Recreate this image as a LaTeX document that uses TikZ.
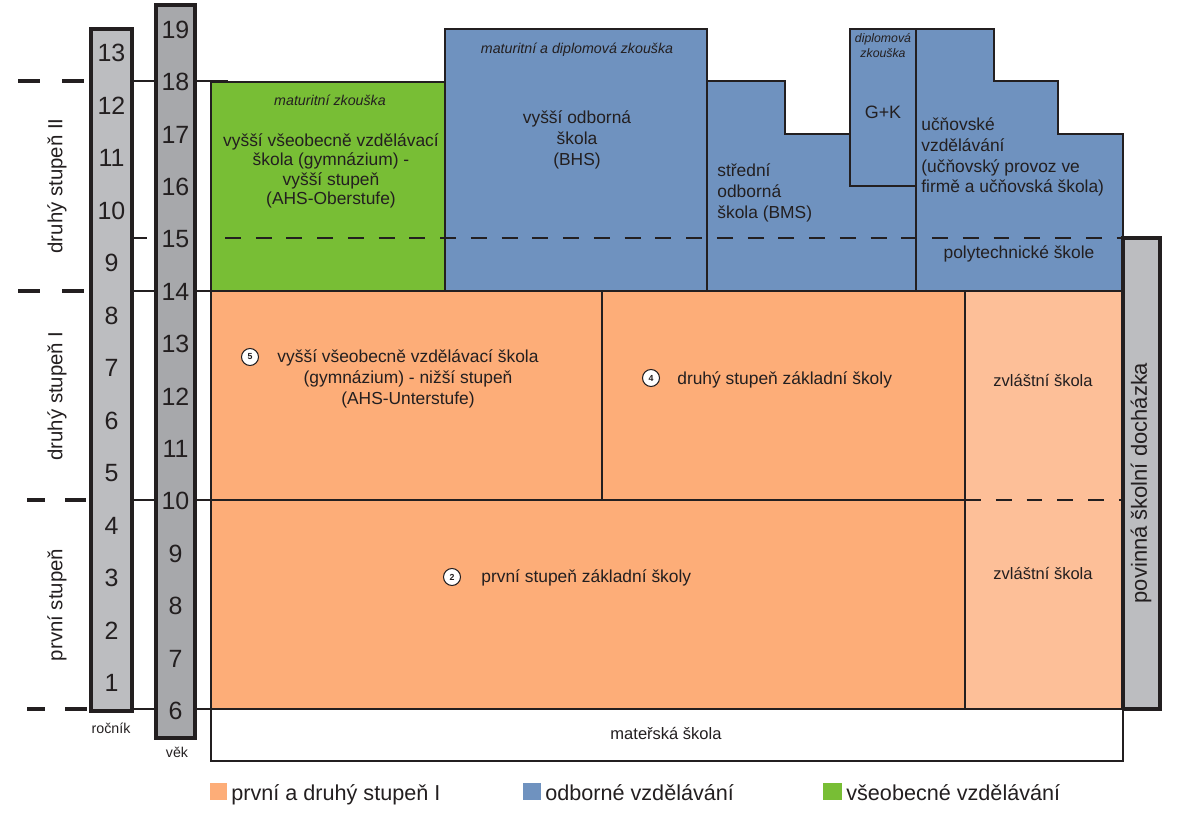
\documentclass[tikz,border=0pt]{standalone}
\usepackage{fontspec}
\setmainfont{Liberation Sans}
\definecolor{ln}{HTML}{231F20}
\definecolor{gA}{HTML}{BCBDC0}
\definecolor{gB}{HTML}{A7A8AB}
\definecolor{grn}{HTML}{78BE35}
\definecolor{blu}{HTML}{6F92BF}
\definecolor{orA}{HTML}{FDAD78}
\definecolor{orB}{HTML}{FDBF98}
\tikzset{
  edge/.style={draw=ln,line width=1.2pt},
  colbox/.style={draw=ln,line width=2.3pt},
  tickmark/.style={draw=ln,line width=2.3pt},
  dline/.style={draw=ln,line width=1.2pt,dash pattern=on 9pt off 8.5pt},
  lbl/.style={inner sep=0pt,text=ln,align=center},
  num/.style={lbl,font=\fontsize{14.2}{16}\selectfont},
  side/.style={lbl,rotate=90,font=\fontsize{11.6}{13}\selectfont},
  txt/.style={lbl,font=\fontsize{9.9}{11.9}\selectfont},
  itx/.style={lbl,font=\fontsize{8.1}{10}\selectfont\itshape},
  small/.style={lbl,font=\fontsize{8.1}{10}\selectfont},
  leg/.style={lbl,anchor=base west,font=\fontsize{12.3}{14}\selectfont},
  circ/.style={circle,draw=ln,line width=0.6pt,fill=white,minimum size=0.34cm,inner sep=0pt,font=\fontsize{5}{6}\selectfont\bfseries,text=ln}
}
\begin{document}
\begin{tikzpicture}[x=0.02cm,y=-0.02cm]
\useasboundingbox (0,0) rectangle (1199,830);

% left dashed stage marks
\draw[tickmark] (18,81) -- (40,81) (62,81) -- (84,81);
\draw[tickmark] (18,291) -- (40,291) (62,291) -- (84,291);
\draw[tickmark] (27,500) -- (45,500) (65,500) -- (86,500);
\draw[tickmark] (27,709) -- (45,709) (65,709) -- (87,709);

% stage labels
\node[side] (s2) at (57,186) {druhý stupeň II};
\node[side] (s1b) at (57,396) {druhý stupeň I};
\node[side] (s1a) at (57,605) {první stupeň};

% connectors between columns
\draw[edge] (132,81) -- (156,81) (195,81) -- (228,81);
\draw[edge] (132,238) -- (147,238);
\draw[edge] (132,291) -- (156,291) (195,291) -- (211,291);
\draw[edge] (132,500) -- (156,500) (195,500) -- (211,500);
\draw[edge] (132,709) -- (156,709) (195,709) -- (211,709);

% columns
\draw[colbox,fill=gA] (91,29) rectangle (132,711);
\draw[colbox,fill=gB] (156,5) rectangle (195,738);
\foreach \g in {1,...,13} \node[num] (r\g) at (111.5,{53+(13-\g)*52.5}) {\g};
\foreach \a in {6,...,19} \node[num] (v\a) at (175.5,{711-(\a-6)*52.4}) {\a};
\node[small] (rocnik) at (111,728) {ročník};
\node[small] (vek) at (177,752) {věk};

% green
\draw[edge,fill=grn] (211,82) rectangle (445,291);
% blue
\draw[edge,fill=blu] (445,29) rectangle (707,291);
\draw[edge,fill=blu] (707,81) -- (785,81) -- (785,134) -- (850,134) -- (850,186) -- (916,186) -- (916,291) -- (707,291) -- cycle;
\draw[edge,fill=blu] (850,29) rectangle (916,186);
\draw[edge,fill=blu] (916,29) -- (994,29) -- (994,81) -- (1058,81) -- (1058,134) -- (1123,134) -- (1123,291) -- (916,291) -- cycle;
\draw[dline] (225,238) -- (1123,238);

% orange
\draw[edge,fill=orA] (211,291) rectangle (965,709);
\draw[edge] (602,291) -- (602,500);
\draw[edge] (211,500) -- (965,500);
\draw[edge,fill=orB] (965,291) rectangle (1123,709);
\draw[dline] (965,500) -- (1123,500);
\draw[edge] (195,709) -- (967,709);

% compulsory schooling
\draw[colbox,line width=2pt,fill=gA] (1123,238) rectangle (1160,709);
\node[lbl,rotate=90,font=\fontsize{12.5}{14}\selectfont] (pov) at (1141,483) {povinná školní docházka};

% kindergarten
\draw[edge,fill=white] (211,709) rectangle (1123,761);
\node[txt,font=\fontsize{9.4}{11}\selectfont] (mat) at (666,733) {mateřská škola};

% texts in boxes
\node[itx] (mz) at (330,100) {maturitní zkouška};
\node[txt,font=\fontsize{9.9}{11}\selectfont] (gym) at (331,171) {vyšší všeobecně vzdělávací\\škola (gymnázium) -\\vyšší stupeň\\(AHS-Oberstufe)};
\node[itx] (mdz) at (577,50) {maturitní a diplomová zkouška};
\node[txt] (bhs) at (577,140) {vyšší odborná\\škola\\(BHS)};
\node[txt,align=left,anchor=west] (bms) at (717,193) {střední\\odborná\\škola (BMS)};
\node[lbl,font=\fontsize{7}{8.5}\selectfont\itshape] (dz) at (883,46) {diplomová\\zkouška};
\node[lbl,font=\fontsize{10.2}{12}\selectfont] (gk) at (883,112) {G+K};
\node[txt,align=left,anchor=west] (ucn) at (921,157) {učňovské\\vzdělávání\\(učňovský provoz ve\\firmě a učňovská škola)};
\node[txt] (poly) at (1019,254) {polytechnické škole};

\node[txt] (ahsu) at (408,379) {vyšší všeobecně vzdělávací škola\\(gymnázium) - nižší stupeň\\(AHS-Unterstufe)};
\node[circ] (c5) at (250,357) {5};
\node[txt,anchor=west] (zs2) at (677,380) {druhý stupeň základní školy};
\node[circ] (c4) at (651,378) {4};
\node[txt,anchor=west] (zs1) at (481,578) {první stupeň základní školy};
\node[circ] (c2) at (452,577) {2};
\node[txt,font=\fontsize{9.4}{11}\selectfont] (zv1) at (1043,381) {zvláštní škola};
\node[txt,font=\fontsize{9.4}{11}\selectfont] (zv2) at (1043,573) {zvláštní škola};

% legend
\fill[orA] (210,783) rectangle (227,800);
\node[leg] (l1) at (231,800) {první a druhý stupeň I};
\fill[blu] (523,783) rectangle (541,800);
\node[leg] (l2) at (545,800) {odborné vzdělávání};
\fill[grn] (823,783) rectangle (842,800);
\node[leg] (l3) at (846,800) {všeobecné vzdělávání};
\end{tikzpicture}
\end{document}
